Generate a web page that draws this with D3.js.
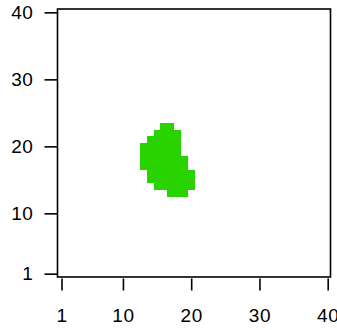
<!DOCTYPE html>
<html>
<head>
<meta charset="utf-8">
<script src="https://cdn.jsdelivr.net/npm/d3@7"></script>
<style>
  html, body { margin: 0; padding: 0; background: #fff; }
  svg { display: block; }
  text { font-family: "Liberation Sans", Arial, sans-serif; fill: #000; }
</style>
</head>
<body>
<svg id="chart" width="337" height="330"></svg>
<script>
// Grid of 40 x 40 cells; only the filled region is drawn.
// Each filled row is given by its row index and the first/last filled column.
const rowIndex = [13, 14, 15, 16, 17, 18, 19, 20, 21, 22, 23];
const colFirst = [17, 15, 14, 14, 13, 13, 13, 13, 14, 15, 16];
const colLast  = [19, 20, 20, 20, 19, 19, 18, 18, 18, 18, 17];
const xTicks = [1, 10, 20, 30, 40];
const yTicks = [1, 10, 20, 30, 40];
const gridSize = 40;
const fillColor = "#29d300";
const labelSize = 19;

const cells = [];
rowIndex.forEach((r, k) => {
  for (let c = colFirst[k]; c <= colLast[k]; c++) cells.push({ col: c, row: r });
});

const svg = d3.select("#chart");
const box = { left: 57.5, right: 330.5, top: 9, bottom: 277 };

const x = d3.scaleLinear().domain([0.5, gridSize + 0.5]).range([box.left + 0.6, box.right + 0.6]);
const y = d3.scaleLinear().domain([0.5, gridSize + 0.5]).range([box.bottom, box.top]);

// cells
svg.append("g")
  .selectAll("rect")
  .data(cells)
  .join("rect")
  .attr("x", d => x(d.col - 0.5))
  .attr("y", d => y(d.row + 0.5))
  .attr("width", d => x(d.col + 0.5) - x(d.col - 0.5))
  .attr("height", d => y(d.row - 0.5) - y(d.row + 0.5))
  .attr("fill", fillColor)
  .attr("shape-rendering", "crispEdges");

// frame
svg.append("rect")
  .attr("x", box.left).attr("y", box.top)
  .attr("width", box.right - box.left).attr("height", box.bottom - box.top)
  .attr("fill", "none").attr("stroke", "#000").attr("stroke-width", 1.6);

function styleTicks(g) {
  g.select(".domain").remove();
  g.selectAll(".tick line").attr("stroke", "#000").attr("stroke-width", 1.6);
  g.selectAll(".tick text")
    .attr("font-size", labelSize)
    .attr("letter-spacing", "0.6px")
    .attr("font-family", "Liberation Sans, Arial, sans-serif")
    .attr("fill", "#000");
}

// x axis, set slightly below the frame
const xAxis = d3.axisBottom(x).tickValues(xTicks).tickSize(12).tickPadding(18).tickFormat(d3.format("d"));
svg.append("g").attr("transform", `translate(0,${box.bottom + 1.5})`).call(xAxis).call(styleTicks);

// y axis on the frame's left edge
const yAxis = d3.axisLeft(y).tickValues(yTicks).tickSize(13).tickPadding(11).tickFormat(d3.format("d"));
svg.append("g").attr("transform", `translate(${box.left},0)`).call(yAxis).call(styleTicks);
</script>
</body>
</html>
